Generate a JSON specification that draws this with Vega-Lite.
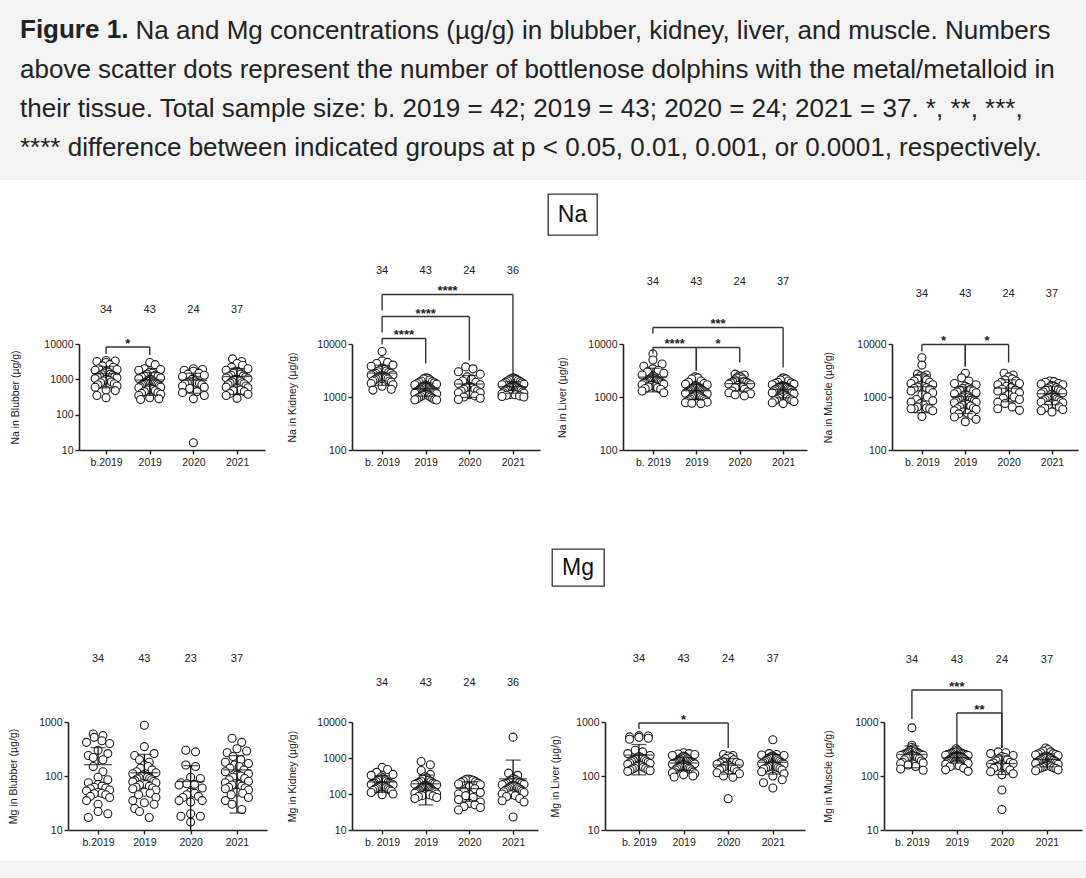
{
"$schema":"https://vega.github.io/schema/vega-lite/v6.json",
"padding":0,
"background":"white",
"columns":1,
"spacing":13,
"config":{
 "view":{"stroke":null},
 "font":"Liberation Sans",
 "axis":{"domainColor":"#222","domainWidth":1.6,"tickColor":"#222","tickWidth":1.4,"tickSize":4,"labelColor":"#222","labelFont":"Liberation Sans","labelFontSize":10.5,"titleFont":"Liberation Sans","titleFontSize":10.5,"titleFontWeight":"normal","titleColor":"#222","grid":false,"labelPadding":2,"labelFlush":false,"labelOverlap":false},
 "axisX":{"labelPadding":3},
 "text":{"font":"Liberation Sans","color":"#222"}
},
"datasets":{
"NaB":[
{"g":"b.2019","v":3400},{"g":"b.2019","v":3300},{"g":"b.2019","v":3200},{"g":"b.2019","v":3000},{"g":"b.2019","v":2600},{"g":"b.2019","v":2400},{"g":"b.2019","v":2200},{"g":"b.2019","v":2000},{"g":"b.2019","v":1900},{"g":"b.2019","v":1800},{"g":"b.2019","v":1700},{"g":"b.2019","v":1600},{"g":"b.2019","v":1500},{"g":"b.2019","v":1400},{"g":"b.2019","v":1350},{"g":"b.2019","v":1300},{"g":"b.2019","v":1250},{"g":"b.2019","v":1200},{"g":"b.2019","v":1150},{"g":"b.2019","v":1100},{"g":"b.2019","v":1050},{"g":"b.2019","v":1000},{"g":"b.2019","v":950},{"g":"b.2019","v":900},{"g":"b.2019","v":850},{"g":"b.2019","v":800},{"g":"b.2019","v":750},{"g":"b.2019","v":700},{"g":"b.2019","v":650},{"g":"b.2019","v":600},{"g":"b.2019","v":500},{"g":"b.2019","v":480},{"g":"b.2019","v":350},{"g":"b.2019","v":300},
{"g":"2019","v":3000},{"g":"2019","v":2600},{"g":"2019","v":2000},{"g":"2019","v":1900},{"g":"2019","v":1800},{"g":"2019","v":1600},{"g":"2019","v":1500},{"g":"2019","v":1400},{"g":"2019","v":1300},{"g":"2019","v":1250},{"g":"2019","v":1200},{"g":"2019","v":1150},{"g":"2019","v":1100},{"g":"2019","v":1050},{"g":"2019","v":1000},{"g":"2019","v":980},{"g":"2019","v":950},{"g":"2019","v":900},{"g":"2019","v":880},{"g":"2019","v":850},{"g":"2019","v":820},{"g":"2019","v":800},{"g":"2019","v":780},{"g":"2019","v":750},{"g":"2019","v":720},{"g":"2019","v":700},{"g":"2019","v":680},{"g":"2019","v":650},{"g":"2019","v":620},{"g":"2019","v":600},{"g":"2019","v":580},{"g":"2019","v":550},{"g":"2019","v":520},{"g":"2019","v":500},{"g":"2019","v":480},{"g":"2019","v":450},{"g":"2019","v":420},{"g":"2019","v":400},{"g":"2019","v":380},{"g":"2019","v":350},{"g":"2019","v":300},{"g":"2019","v":280},{"g":"2019","v":270},
{"g":"2020","v":2000},{"g":"2020","v":1900},{"g":"2020","v":1800},{"g":"2020","v":1700},{"g":"2020","v":1500},{"g":"2020","v":1400},{"g":"2020","v":1300},{"g":"2020","v":1200},{"g":"2020","v":1000},{"g":"2020","v":900},{"g":"2020","v":850},{"g":"2020","v":800},{"g":"2020","v":800},{"g":"2020","v":780},{"g":"2020","v":750},{"g":"2020","v":700},{"g":"2020","v":650},{"g":"2020","v":600},{"g":"2020","v":550},{"g":"2020","v":450},{"g":"2020","v":420},{"g":"2020","v":350},{"g":"2020","v":280},{"g":"2020","v":16},
{"g":"2021","v":3800},{"g":"2021","v":3200},{"g":"2021","v":2800},{"g":"2021","v":2500},{"g":"2021","v":2200},{"g":"2021","v":2000},{"g":"2021","v":1800},{"g":"2021","v":1700},{"g":"2021","v":1600},{"g":"2021","v":1500},{"g":"2021","v":1400},{"g":"2021","v":1300},{"g":"2021","v":1250},{"g":"2021","v":1200},{"g":"2021","v":1150},{"g":"2021","v":1100},{"g":"2021","v":1050},{"g":"2021","v":1000},{"g":"2021","v":980},{"g":"2021","v":950},{"g":"2021","v":900},{"g":"2021","v":850},{"g":"2021","v":800},{"g":"2021","v":780},{"g":"2021","v":750},{"g":"2021","v":700},{"g":"2021","v":650},{"g":"2021","v":600},{"g":"2021","v":580},{"g":"2021","v":550},{"g":"2021","v":500},{"g":"2021","v":480},{"g":"2021","v":450},{"g":"2021","v":400},{"g":"2021","v":380},{"g":"2021","v":350},{"g":"2021","v":290}
],
"NaK":[
{"g":"b.2019","v":7200},{"g":"b.2019","v":4800},{"g":"b.2019","v":4500},{"g":"b.2019","v":4300},{"g":"b.2019","v":4000},{"g":"b.2019","v":3800},{"g":"b.2019","v":3500},{"g":"b.2019","v":3300},{"g":"b.2019","v":3200},{"g":"b.2019","v":3100},{"g":"b.2019","v":3000},{"g":"b.2019","v":2900},{"g":"b.2019","v":2800},{"g":"b.2019","v":2800},{"g":"b.2019","v":2700},{"g":"b.2019","v":2600},{"g":"b.2019","v":2600},{"g":"b.2019","v":2500},{"g":"b.2019","v":2500},{"g":"b.2019","v":2400},{"g":"b.2019","v":2400},{"g":"b.2019","v":2300},{"g":"b.2019","v":2300},{"g":"b.2019","v":2200},{"g":"b.2019","v":2200},{"g":"b.2019","v":2100},{"g":"b.2019","v":2000},{"g":"b.2019","v":2000},{"g":"b.2019","v":1900},{"g":"b.2019","v":1800},{"g":"b.2019","v":1700},{"g":"b.2019","v":1600},{"g":"b.2019","v":1400},{"g":"b.2019","v":1350},
{"g":"2019","v":2300},{"g":"2019","v":2250},{"g":"2019","v":2200},{"g":"2019","v":2100},{"g":"2019","v":2000},{"g":"2019","v":1950},{"g":"2019","v":1900},{"g":"2019","v":1850},{"g":"2019","v":1800},{"g":"2019","v":1750},{"g":"2019","v":1700},{"g":"2019","v":1680},{"g":"2019","v":1650},{"g":"2019","v":1600},{"g":"2019","v":1580},{"g":"2019","v":1550},{"g":"2019","v":1500},{"g":"2019","v":1480},{"g":"2019","v":1450},{"g":"2019","v":1420},{"g":"2019","v":1400},{"g":"2019","v":1380},{"g":"2019","v":1350},{"g":"2019","v":1320},{"g":"2019","v":1300},{"g":"2019","v":1280},{"g":"2019","v":1250},{"g":"2019","v":1220},{"g":"2019","v":1200},{"g":"2019","v":1180},{"g":"2019","v":1150},{"g":"2019","v":1120},{"g":"2019","v":1100},{"g":"2019","v":1080},{"g":"2019","v":1050},{"g":"2019","v":1020},{"g":"2019","v":1000},{"g":"2019","v":980},{"g":"2019","v":950},{"g":"2019","v":920},{"g":"2019","v":900},{"g":"2019","v":890},{"g":"2019","v":880},
{"g":"2020","v":3700},{"g":"2020","v":3400},{"g":"2020","v":3000},{"g":"2020","v":2700},{"g":"2020","v":2400},{"g":"2020","v":2200},{"g":"2020","v":2000},{"g":"2020","v":1900},{"g":"2020","v":1800},{"g":"2020","v":1700},{"g":"2020","v":1600},{"g":"2020","v":1500},{"g":"2020","v":1500},{"g":"2020","v":1400},{"g":"2020","v":1400},{"g":"2020","v":1300},{"g":"2020","v":1300},{"g":"2020","v":1200},{"g":"2020","v":1200},{"g":"2020","v":1100},{"g":"2020","v":1050},{"g":"2020","v":1000},{"g":"2020","v":950},{"g":"2020","v":900},
{"g":"2021","v":2300},{"g":"2021","v":2250},{"g":"2021","v":2200},{"g":"2021","v":2150},{"g":"2021","v":2100},{"g":"2021","v":2050},{"g":"2021","v":2000},{"g":"2021","v":1950},{"g":"2021","v":1900},{"g":"2021","v":1850},{"g":"2021","v":1800},{"g":"2021","v":1750},{"g":"2021","v":1700},{"g":"2021","v":1650},{"g":"2021","v":1600},{"g":"2021","v":1580},{"g":"2021","v":1550},{"g":"2021","v":1520},{"g":"2021","v":1500},{"g":"2021","v":1480},{"g":"2021","v":1450},{"g":"2021","v":1420},{"g":"2021","v":1400},{"g":"2021","v":1380},{"g":"2021","v":1350},{"g":"2021","v":1300},{"g":"2021","v":1250},{"g":"2021","v":1200},{"g":"2021","v":1180},{"g":"2021","v":1150},{"g":"2021","v":1120},{"g":"2021","v":1100},{"g":"2021","v":1080},{"g":"2021","v":1050},{"g":"2021","v":1020},{"g":"2021","v":1000}
],
"NaL":[
{"g":"b.2019","v":6500},{"g":"b.2019","v":5000},{"g":"b.2019","v":4200},{"g":"b.2019","v":3800},{"g":"b.2019","v":3400},{"g":"b.2019","v":3200},{"g":"b.2019","v":3000},{"g":"b.2019","v":2800},{"g":"b.2019","v":2600},{"g":"b.2019","v":2500},{"g":"b.2019","v":2400},{"g":"b.2019","v":2300},{"g":"b.2019","v":2200},{"g":"b.2019","v":2200},{"g":"b.2019","v":2100},{"g":"b.2019","v":2100},{"g":"b.2019","v":2000},{"g":"b.2019","v":2000},{"g":"b.2019","v":1950},{"g":"b.2019","v":1900},{"g":"b.2019","v":1900},{"g":"b.2019","v":1850},{"g":"b.2019","v":1800},{"g":"b.2019","v":1800},{"g":"b.2019","v":1750},{"g":"b.2019","v":1700},{"g":"b.2019","v":1650},{"g":"b.2019","v":1600},{"g":"b.2019","v":1550},{"g":"b.2019","v":1500},{"g":"b.2019","v":1450},{"g":"b.2019","v":1400},{"g":"b.2019","v":1300},{"g":"b.2019","v":1200},
{"g":"2019","v":2400},{"g":"2019","v":2300},{"g":"2019","v":2200},{"g":"2019","v":2000},{"g":"2019","v":1900},{"g":"2019","v":1800},{"g":"2019","v":1750},{"g":"2019","v":1700},{"g":"2019","v":1650},{"g":"2019","v":1600},{"g":"2019","v":1550},{"g":"2019","v":1500},{"g":"2019","v":1480},{"g":"2019","v":1450},{"g":"2019","v":1420},{"g":"2019","v":1400},{"g":"2019","v":1380},{"g":"2019","v":1350},{"g":"2019","v":1320},{"g":"2019","v":1300},{"g":"2019","v":1280},{"g":"2019","v":1250},{"g":"2019","v":1220},{"g":"2019","v":1200},{"g":"2019","v":1180},{"g":"2019","v":1150},{"g":"2019","v":1120},{"g":"2019","v":1100},{"g":"2019","v":1080},{"g":"2019","v":1050},{"g":"2019","v":1020},{"g":"2019","v":1000},{"g":"2019","v":980},{"g":"2019","v":950},{"g":"2019","v":920},{"g":"2019","v":900},{"g":"2019","v":880},{"g":"2019","v":850},{"g":"2019","v":820},{"g":"2019","v":800},{"g":"2019","v":780},{"g":"2019","v":760},{"g":"2019","v":750},
{"g":"2020","v":2700},{"g":"2020","v":2600},{"g":"2020","v":2500},{"g":"2020","v":2400},{"g":"2020","v":2300},{"g":"2020","v":2200},{"g":"2020","v":2100},{"g":"2020","v":2000},{"g":"2020","v":1950},{"g":"2020","v":1900},{"g":"2020","v":1850},{"g":"2020","v":1800},{"g":"2020","v":1750},{"g":"2020","v":1700},{"g":"2020","v":1650},{"g":"2020","v":1600},{"g":"2020","v":1500},{"g":"2020","v":1400},{"g":"2020","v":1300},{"g":"2020","v":1250},{"g":"2020","v":1200},{"g":"2020","v":1150},{"g":"2020","v":1100},{"g":"2020","v":1050},
{"g":"2021","v":2300},{"g":"2021","v":2200},{"g":"2021","v":2100},{"g":"2021","v":2000},{"g":"2021","v":1900},{"g":"2021","v":1850},{"g":"2021","v":1800},{"g":"2021","v":1750},{"g":"2021","v":1700},{"g":"2021","v":1650},{"g":"2021","v":1600},{"g":"2021","v":1580},{"g":"2021","v":1550},{"g":"2021","v":1520},{"g":"2021","v":1500},{"g":"2021","v":1480},{"g":"2021","v":1450},{"g":"2021","v":1420},{"g":"2021","v":1400},{"g":"2021","v":1380},{"g":"2021","v":1350},{"g":"2021","v":1300},{"g":"2021","v":1250},{"g":"2021","v":1200},{"g":"2021","v":1150},{"g":"2021","v":1100},{"g":"2021","v":1050},{"g":"2021","v":1000},{"g":"2021","v":980},{"g":"2021","v":950},{"g":"2021","v":920},{"g":"2021","v":900},{"g":"2021","v":880},{"g":"2021","v":850},{"g":"2021","v":820},{"g":"2021","v":780},{"g":"2021","v":750}
],
"NaM":[
{"g":"b.2019","v":5500},{"g":"b.2019","v":4000},{"g":"b.2019","v":2700},{"g":"b.2019","v":2600},{"g":"b.2019","v":2500},{"g":"b.2019","v":2400},{"g":"b.2019","v":2200},{"g":"b.2019","v":2100},{"g":"b.2019","v":2000},{"g":"b.2019","v":1900},{"g":"b.2019","v":1800},{"g":"b.2019","v":1700},{"g":"b.2019","v":1650},{"g":"b.2019","v":1600},{"g":"b.2019","v":1550},{"g":"b.2019","v":1500},{"g":"b.2019","v":1450},{"g":"b.2019","v":1400},{"g":"b.2019","v":1300},{"g":"b.2019","v":1200},{"g":"b.2019","v":1100},{"g":"b.2019","v":1000},{"g":"b.2019","v":900},{"g":"b.2019","v":850},{"g":"b.2019","v":800},{"g":"b.2019","v":750},{"g":"b.2019","v":700},{"g":"b.2019","v":650},{"g":"b.2019","v":620},{"g":"b.2019","v":600},{"g":"b.2019","v":600},{"g":"b.2019","v":600},{"g":"b.2019","v":550},{"g":"b.2019","v":430},
{"g":"2019","v":2800},{"g":"2019","v":2300},{"g":"2019","v":2000},{"g":"2019","v":1800},{"g":"2019","v":1700},{"g":"2019","v":1600},{"g":"2019","v":1500},{"g":"2019","v":1450},{"g":"2019","v":1400},{"g":"2019","v":1350},{"g":"2019","v":1300},{"g":"2019","v":1250},{"g":"2019","v":1200},{"g":"2019","v":1150},{"g":"2019","v":1100},{"g":"2019","v":1080},{"g":"2019","v":1050},{"g":"2019","v":1000},{"g":"2019","v":980},{"g":"2019","v":950},{"g":"2019","v":920},{"g":"2019","v":900},{"g":"2019","v":880},{"g":"2019","v":850},{"g":"2019","v":820},{"g":"2019","v":800},{"g":"2019","v":780},{"g":"2019","v":750},{"g":"2019","v":720},{"g":"2019","v":700},{"g":"2019","v":680},{"g":"2019","v":650},{"g":"2019","v":620},{"g":"2019","v":600},{"g":"2019","v":580},{"g":"2019","v":550},{"g":"2019","v":520},{"g":"2019","v":500},{"g":"2019","v":480},{"g":"2019","v":450},{"g":"2019","v":420},{"g":"2019","v":380},{"g":"2019","v":340},
{"g":"2020","v":2800},{"g":"2020","v":2600},{"g":"2020","v":2400},{"g":"2020","v":2200},{"g":"2020","v":2100},{"g":"2020","v":2000},{"g":"2020","v":1900},{"g":"2020","v":1800},{"g":"2020","v":1700},{"g":"2020","v":1600},{"g":"2020","v":1500},{"g":"2020","v":1400},{"g":"2020","v":1350},{"g":"2020","v":1300},{"g":"2020","v":1200},{"g":"2020","v":1100},{"g":"2020","v":1000},{"g":"2020","v":950},{"g":"2020","v":900},{"g":"2020","v":800},{"g":"2020","v":750},{"g":"2020","v":650},{"g":"2020","v":600},{"g":"2020","v":560},
{"g":"2021","v":2000},{"g":"2021","v":1950},{"g":"2021","v":1900},{"g":"2021","v":1800},{"g":"2021","v":1750},{"g":"2021","v":1700},{"g":"2021","v":1650},{"g":"2021","v":1600},{"g":"2021","v":1550},{"g":"2021","v":1500},{"g":"2021","v":1450},{"g":"2021","v":1400},{"g":"2021","v":1350},{"g":"2021","v":1300},{"g":"2021","v":1250},{"g":"2021","v":1200},{"g":"2021","v":1150},{"g":"2021","v":1100},{"g":"2021","v":1050},{"g":"2021","v":1000},{"g":"2021","v":980},{"g":"2021","v":950},{"g":"2021","v":920},{"g":"2021","v":900},{"g":"2021","v":880},{"g":"2021","v":850},{"g":"2021","v":820},{"g":"2021","v":800},{"g":"2021","v":780},{"g":"2021","v":750},{"g":"2021","v":720},{"g":"2021","v":700},{"g":"2021","v":650},{"g":"2021","v":620},{"g":"2021","v":580},{"g":"2021","v":550},{"g":"2021","v":520}
],
"MgB":[
{"g":"b.2019","v":600},{"g":"b.2019","v":560},{"g":"b.2019","v":520},{"g":"b.2019","v":450},{"g":"b.2019","v":420},{"g":"b.2019","v":400},{"g":"b.2019","v":300},{"g":"b.2019","v":260},{"g":"b.2019","v":240},{"g":"b.2019","v":220},{"g":"b.2019","v":200},{"g":"b.2019","v":150},{"g":"b.2019","v":120},{"g":"b.2019","v":95},{"g":"b.2019","v":85},{"g":"b.2019","v":75},{"g":"b.2019","v":70},{"g":"b.2019","v":65},{"g":"b.2019","v":62},{"g":"b.2019","v":60},{"g":"b.2019","v":58},{"g":"b.2019","v":55},{"g":"b.2019","v":53},{"g":"b.2019","v":50},{"g":"b.2019","v":48},{"g":"b.2019","v":47},{"g":"b.2019","v":45},{"g":"b.2019","v":42},{"g":"b.2019","v":40},{"g":"b.2019","v":35},{"g":"b.2019","v":30},{"g":"b.2019","v":22},{"g":"b.2019","v":20},{"g":"b.2019","v":17},
{"g":"2019","v":870},{"g":"2019","v":350},{"g":"2019","v":260},{"g":"2019","v":240},{"g":"2019","v":200},{"g":"2019","v":180},{"g":"2019","v":160},{"g":"2019","v":150},{"g":"2019","v":140},{"g":"2019","v":130},{"g":"2019","v":120},{"g":"2019","v":115},{"g":"2019","v":110},{"g":"2019","v":105},{"g":"2019","v":100},{"g":"2019","v":98},{"g":"2019","v":95},{"g":"2019","v":92},{"g":"2019","v":90},{"g":"2019","v":88},{"g":"2019","v":85},{"g":"2019","v":82},{"g":"2019","v":80},{"g":"2019","v":78},{"g":"2019","v":75},{"g":"2019","v":72},{"g":"2019","v":70},{"g":"2019","v":68},{"g":"2019","v":65},{"g":"2019","v":62},{"g":"2019","v":60},{"g":"2019","v":58},{"g":"2019","v":55},{"g":"2019","v":50},{"g":"2019","v":48},{"g":"2019","v":45},{"g":"2019","v":40},{"g":"2019","v":35},{"g":"2019","v":32},{"g":"2019","v":30},{"g":"2019","v":25},{"g":"2019","v":22},{"g":"2019","v":17},
{"g":"2020","v":300},{"g":"2020","v":280},{"g":"2020","v":160},{"g":"2020","v":150},{"g":"2020","v":95},{"g":"2020","v":90},{"g":"2020","v":75},{"g":"2020","v":72},{"g":"2020","v":70},{"g":"2020","v":68},{"g":"2020","v":60},{"g":"2020","v":50},{"g":"2020","v":48},{"g":"2020","v":45},{"g":"2020","v":42},{"g":"2020","v":40},{"g":"2020","v":35},{"g":"2020","v":35},{"g":"2020","v":33},{"g":"2020","v":20},{"g":"2020","v":18},{"g":"2020","v":18},{"g":"2020","v":14},
{"g":"2021","v":500},{"g":"2021","v":420},{"g":"2021","v":320},{"g":"2021","v":290},{"g":"2021","v":270},{"g":"2021","v":230},{"g":"2021","v":200},{"g":"2021","v":180},{"g":"2021","v":170},{"g":"2021","v":160},{"g":"2021","v":150},{"g":"2021","v":140},{"g":"2021","v":130},{"g":"2021","v":120},{"g":"2021","v":110},{"g":"2021","v":105},{"g":"2021","v":100},{"g":"2021","v":95},{"g":"2021","v":90},{"g":"2021","v":85},{"g":"2021","v":80},{"g":"2021","v":75},{"g":"2021","v":72},{"g":"2021","v":70},{"g":"2021","v":68},{"g":"2021","v":65},{"g":"2021","v":62},{"g":"2021","v":60},{"g":"2021","v":58},{"g":"2021","v":55},{"g":"2021","v":50},{"g":"2021","v":48},{"g":"2021","v":45},{"g":"2021","v":40},{"g":"2021","v":35},{"g":"2021","v":30},{"g":"2021","v":24}
],
"MgK":[
{"g":"b.2019","v":550},{"g":"b.2019","v":480},{"g":"b.2019","v":400},{"g":"b.2019","v":350},{"g":"b.2019","v":330},{"g":"b.2019","v":300},{"g":"b.2019","v":280},{"g":"b.2019","v":260},{"g":"b.2019","v":250},{"g":"b.2019","v":240},{"g":"b.2019","v":230},{"g":"b.2019","v":220},{"g":"b.2019","v":210},{"g":"b.2019","v":200},{"g":"b.2019","v":200},{"g":"b.2019","v":195},{"g":"b.2019","v":190},{"g":"b.2019","v":185},{"g":"b.2019","v":180},{"g":"b.2019","v":175},{"g":"b.2019","v":170},{"g":"b.2019","v":165},{"g":"b.2019","v":160},{"g":"b.2019","v":155},{"g":"b.2019","v":150},{"g":"b.2019","v":145},{"g":"b.2019","v":140},{"g":"b.2019","v":135},{"g":"b.2019","v":130},{"g":"b.2019","v":125},{"g":"b.2019","v":120},{"g":"b.2019","v":110},{"g":"b.2019","v":100},{"g":"b.2019","v":95},
{"g":"2019","v":800},{"g":"2019","v":650},{"g":"2019","v":450},{"g":"2019","v":350},{"g":"2019","v":300},{"g":"2019","v":280},{"g":"2019","v":260},{"g":"2019","v":240},{"g":"2019","v":230},{"g":"2019","v":220},{"g":"2019","v":210},{"g":"2019","v":200},{"g":"2019","v":195},{"g":"2019","v":190},{"g":"2019","v":185},{"g":"2019","v":180},{"g":"2019","v":175},{"g":"2019","v":170},{"g":"2019","v":165},{"g":"2019","v":160},{"g":"2019","v":155},{"g":"2019","v":150},{"g":"2019","v":148},{"g":"2019","v":145},{"g":"2019","v":140},{"g":"2019","v":135},{"g":"2019","v":130},{"g":"2019","v":128},{"g":"2019","v":125},{"g":"2019","v":120},{"g":"2019","v":118},{"g":"2019","v":115},{"g":"2019","v":112},{"g":"2019","v":110},{"g":"2019","v":105},{"g":"2019","v":100},{"g":"2019","v":98},{"g":"2019","v":95},{"g":"2019","v":90},{"g":"2019","v":88},{"g":"2019","v":85},{"g":"2019","v":80},{"g":"2019","v":75},
{"g":"2020","v":260},{"g":"2020","v":250},{"g":"2020","v":250},{"g":"2020","v":240},{"g":"2020","v":230},{"g":"2020","v":220},{"g":"2020","v":210},{"g":"2020","v":200},{"g":"2020","v":190},{"g":"2020","v":180},{"g":"2020","v":160},{"g":"2020","v":140},{"g":"2020","v":120},{"g":"2020","v":110},{"g":"2020","v":100},{"g":"2020","v":90},{"g":"2020","v":80},{"g":"2020","v":70},{"g":"2020","v":60},{"g":"2020","v":55},{"g":"2020","v":50},{"g":"2020","v":45},{"g":"2020","v":42},{"g":"2020","v":36},
{"g":"2021","v":3800},{"g":"2021","v":380},{"g":"2021","v":330},{"g":"2021","v":270},{"g":"2021","v":250},{"g":"2021","v":240},{"g":"2021","v":230},{"g":"2021","v":220},{"g":"2021","v":210},{"g":"2021","v":200},{"g":"2021","v":195},{"g":"2021","v":190},{"g":"2021","v":185},{"g":"2021","v":180},{"g":"2021","v":175},{"g":"2021","v":170},{"g":"2021","v":165},{"g":"2021","v":160},{"g":"2021","v":155},{"g":"2021","v":150},{"g":"2021","v":145},{"g":"2021","v":140},{"g":"2021","v":135},{"g":"2021","v":130},{"g":"2021","v":125},{"g":"2021","v":120},{"g":"2021","v":115},{"g":"2021","v":110},{"g":"2021","v":100},{"g":"2021","v":95},{"g":"2021","v":90},{"g":"2021","v":85},{"g":"2021","v":75},{"g":"2021","v":65},{"g":"2021","v":60},{"g":"2021","v":23}
],
"MgL":[
{"g":"b.2019","v":560},{"g":"b.2019","v":550},{"g":"b.2019","v":530},{"g":"b.2019","v":520},{"g":"b.2019","v":500},{"g":"b.2019","v":480},{"g":"b.2019","v":300},{"g":"b.2019","v":280},{"g":"b.2019","v":260},{"g":"b.2019","v":240},{"g":"b.2019","v":230},{"g":"b.2019","v":220},{"g":"b.2019","v":215},{"g":"b.2019","v":210},{"g":"b.2019","v":205},{"g":"b.2019","v":200},{"g":"b.2019","v":195},{"g":"b.2019","v":190},{"g":"b.2019","v":185},{"g":"b.2019","v":180},{"g":"b.2019","v":175},{"g":"b.2019","v":170},{"g":"b.2019","v":165},{"g":"b.2019","v":160},{"g":"b.2019","v":155},{"g":"b.2019","v":150},{"g":"b.2019","v":145},{"g":"b.2019","v":140},{"g":"b.2019","v":138},{"g":"b.2019","v":135},{"g":"b.2019","v":130},{"g":"b.2019","v":128},{"g":"b.2019","v":125},{"g":"b.2019","v":122},
{"g":"2019","v":270},{"g":"2019","v":260},{"g":"2019","v":255},{"g":"2019","v":250},{"g":"2019","v":240},{"g":"2019","v":235},{"g":"2019","v":230},{"g":"2019","v":225},{"g":"2019","v":220},{"g":"2019","v":215},{"g":"2019","v":210},{"g":"2019","v":205},{"g":"2019","v":200},{"g":"2019","v":195},{"g":"2019","v":190},{"g":"2019","v":185},{"g":"2019","v":182},{"g":"2019","v":180},{"g":"2019","v":178},{"g":"2019","v":175},{"g":"2019","v":172},{"g":"2019","v":170},{"g":"2019","v":168},{"g":"2019","v":165},{"g":"2019","v":162},{"g":"2019","v":160},{"g":"2019","v":158},{"g":"2019","v":155},{"g":"2019","v":150},{"g":"2019","v":148},{"g":"2019","v":145},{"g":"2019","v":140},{"g":"2019","v":138},{"g":"2019","v":135},{"g":"2019","v":130},{"g":"2019","v":125},{"g":"2019","v":120},{"g":"2019","v":118},{"g":"2019","v":115},{"g":"2019","v":110},{"g":"2019","v":105},{"g":"2019","v":100},{"g":"2019","v":96},
{"g":"2020","v":250},{"g":"2020","v":240},{"g":"2020","v":235},{"g":"2020","v":220},{"g":"2020","v":210},{"g":"2020","v":200},{"g":"2020","v":190},{"g":"2020","v":180},{"g":"2020","v":175},{"g":"2020","v":170},{"g":"2020","v":165},{"g":"2020","v":160},{"g":"2020","v":155},{"g":"2020","v":150},{"g":"2020","v":145},{"g":"2020","v":140},{"g":"2020","v":135},{"g":"2020","v":130},{"g":"2020","v":120},{"g":"2020","v":115},{"g":"2020","v":110},{"g":"2020","v":100},{"g":"2020","v":95},{"g":"2020","v":38},
{"g":"2021","v":470},{"g":"2021","v":260},{"g":"2021","v":250},{"g":"2021","v":245},{"g":"2021","v":240},{"g":"2021","v":235},{"g":"2021","v":230},{"g":"2021","v":225},{"g":"2021","v":220},{"g":"2021","v":215},{"g":"2021","v":210},{"g":"2021","v":205},{"g":"2021","v":200},{"g":"2021","v":195},{"g":"2021","v":190},{"g":"2021","v":185},{"g":"2021","v":180},{"g":"2021","v":175},{"g":"2021","v":170},{"g":"2021","v":168},{"g":"2021","v":165},{"g":"2021","v":160},{"g":"2021","v":155},{"g":"2021","v":150},{"g":"2021","v":148},{"g":"2021","v":145},{"g":"2021","v":142},{"g":"2021","v":140},{"g":"2021","v":138},{"g":"2021","v":135},{"g":"2021","v":130},{"g":"2021","v":120},{"g":"2021","v":110},{"g":"2021","v":100},{"g":"2021","v":85},{"g":"2021","v":75},{"g":"2021","v":60}
],
"MgM":[
{"g":"b.2019","v":780},{"g":"b.2019","v":370},{"g":"b.2019","v":340},{"g":"b.2019","v":320},{"g":"b.2019","v":300},{"g":"b.2019","v":290},{"g":"b.2019","v":280},{"g":"b.2019","v":275},{"g":"b.2019","v":270},{"g":"b.2019","v":265},{"g":"b.2019","v":260},{"g":"b.2019","v":255},{"g":"b.2019","v":250},{"g":"b.2019","v":248},{"g":"b.2019","v":245},{"g":"b.2019","v":242},{"g":"b.2019","v":240},{"g":"b.2019","v":238},{"g":"b.2019","v":235},{"g":"b.2019","v":232},{"g":"b.2019","v":230},{"g":"b.2019","v":225},{"g":"b.2019","v":220},{"g":"b.2019","v":215},{"g":"b.2019","v":210},{"g":"b.2019","v":200},{"g":"b.2019","v":190},{"g":"b.2019","v":180},{"g":"b.2019","v":175},{"g":"b.2019","v":170},{"g":"b.2019","v":160},{"g":"b.2019","v":150},{"g":"b.2019","v":135},{"g":"b.2019","v":128},
{"g":"2019","v":320},{"g":"2019","v":300},{"g":"2019","v":290},{"g":"2019","v":280},{"g":"2019","v":275},{"g":"2019","v":270},{"g":"2019","v":265},{"g":"2019","v":260},{"g":"2019","v":258},{"g":"2019","v":255},{"g":"2019","v":252},{"g":"2019","v":250},{"g":"2019","v":248},{"g":"2019","v":245},{"g":"2019","v":242},{"g":"2019","v":240},{"g":"2019","v":238},{"g":"2019","v":235},{"g":"2019","v":232},{"g":"2019","v":230},{"g":"2019","v":228},{"g":"2019","v":225},{"g":"2019","v":222},{"g":"2019","v":220},{"g":"2019","v":218},{"g":"2019","v":215},{"g":"2019","v":212},{"g":"2019","v":210},{"g":"2019","v":205},{"g":"2019","v":200},{"g":"2019","v":195},{"g":"2019","v":190},{"g":"2019","v":185},{"g":"2019","v":180},{"g":"2019","v":175},{"g":"2019","v":170},{"g":"2019","v":165},{"g":"2019","v":160},{"g":"2019","v":155},{"g":"2019","v":150},{"g":"2019","v":140},{"g":"2019","v":130},{"g":"2019","v":122},
{"g":"2020","v":280},{"g":"2020","v":270},{"g":"2020","v":260},{"g":"2020","v":240},{"g":"2020","v":230},{"g":"2020","v":220},{"g":"2020","v":210},{"g":"2020","v":200},{"g":"2020","v":190},{"g":"2020","v":180},{"g":"2020","v":175},{"g":"2020","v":170},{"g":"2020","v":165},{"g":"2020","v":160},{"g":"2020","v":155},{"g":"2020","v":150},{"g":"2020","v":145},{"g":"2020","v":140},{"g":"2020","v":130},{"g":"2020","v":120},{"g":"2020","v":110},{"g":"2020","v":105},{"g":"2020","v":55},{"g":"2020","v":24},
{"g":"2021","v":330},{"g":"2021","v":310},{"g":"2021","v":290},{"g":"2021","v":280},{"g":"2021","v":270},{"g":"2021","v":260},{"g":"2021","v":255},{"g":"2021","v":250},{"g":"2021","v":245},{"g":"2021","v":240},{"g":"2021","v":235},{"g":"2021","v":230},{"g":"2021","v":225},{"g":"2021","v":220},{"g":"2021","v":215},{"g":"2021","v":210},{"g":"2021","v":205},{"g":"2021","v":200},{"g":"2021","v":198},{"g":"2021","v":195},{"g":"2021","v":190},{"g":"2021","v":185},{"g":"2021","v":180},{"g":"2021","v":175},{"g":"2021","v":170},{"g":"2021","v":165},{"g":"2021","v":160},{"g":"2021","v":155},{"g":"2021","v":150},{"g":"2021","v":148},{"g":"2021","v":145},{"g":"2021","v":142},{"g":"2021","v":140},{"g":"2021","v":138},{"g":"2021","v":135},{"g":"2021","v":130},{"g":"2021","v":125}
]
},
"concat":[
{
 "width":1086,"height":180,
 "view":{"fill":"#f3f3f3","stroke":null},
 "data":{"values":[]},
 "mark":{"type":"point","opacity":0},
 "title":{
  "text":"Figure 1.",
  "subtitle":["\u200b\u00a0\u00a0\u00a0\u00a0\u00a0\u00a0\u00a0\u00a0\u00a0\u00a0\u00a0\u00a0\u00a0\u00a0\u00a0\u00a0Na and Mg concentrations (µg/g) in blubber, kidney, liver, and muscle. Numbers","above scatter dots represent the number of bottlenose dolphins with the metal/metalloid in","their tissue. Total sample size: b. 2019 = 42; 2019 = 43; 2020 = 24; 2021 = 37. *, **, ***,","**** difference between indicated groups at p < 0.05, 0.01, 0.001, or 0.0001, respectively."],
  "anchor":"start","frame":"group","orient":"top","offset":-161,"dx":20,
  "font":"Liberation Sans","fontSize":26,"fontWeight":"bold","color":"#222",
  "subtitleFont":"Liberation Sans","subtitleFontSize":26,"subtitleColor":"#222","subtitleLineHeight":39,"subtitlePadding":-25,"subtitleFontWeight":"normal"
 }
},
{
 "concat":[
  {"width":547,"height":58,"data":{"values":[]},"mark":{"type":"point","opacity":0}},
  {
   "width":49,"height":41,
   "view":{"stroke":"#333","strokeWidth":1.3,"fill":"white"},
   "data":{"values":[{"k":"Na"}]},
   "mark":{"type":"text","fontSize":23,"font":"Liberation Sans","color":"#111"},
   "encoding":{
    "text":{"field":"k"},
    "x":{"field":"k","type":"nominal","axis":null},
    "y":{"field":"k","type":"nominal","axis":null}
   }
  }
 ],
 "columns":2,"spacing":0
},
{
 "concat":[
  {"width":1,"height":1,"data":{"values":[]},"mark":{"type":"point","opacity":0}},
  {
   "width":186,"height":106,
   "data":{"name":"NaB"},
   "transform":[
    {"calculate":"indexof(['b.2019','2019','2020','2021'], datum.g)","as":"i"},
    {"calculate":"floor(log(datum.v)/LN10/0.25)","as":"lb"},
    {"joinaggregate":[{"op":"count","as":"c"}],"groupby":["g","lb"]},
    {"window":[{"op":"row_number","as":"r"}],"groupby":["g","lb"],"sort":[{"field":"v","order":"descending"}]},
    {"calculate":"datum.i+((datum.r%2==0?datum.r/2:-(datum.r-1)/2)-(datum.c%2==0?0.5:0))*min(0.21,0.5/max(datum.c-1,1))","as":"xi"}
   ],
   "layer":[
    {"mark":{"type":"point","shape":"circle","filled":true,"fill":"white","stroke":"#1a1a1a","strokeWidth":1.1,"size":64,"opacity":1},
     "encoding":{
      "x":{"field":"xi","type":"quantitative","scale":{"domain":[-0.62,3.64],"nice":false,"zero":false},"axis":{"values":[0,1,2,3],"labelExpr":"['b.2019','2019','2020','2021'][datum.value]","title":null,"minExtent":85,"maxExtent":85}},
      "y":{"field":"v","type":"quantitative","scale":{"type":"log","domain":[10,10000],"nice":false},"axis":{"values":[10,100,1000,10000],"format":"d","title":"Na in Blubber (µg/g)","titleX":-64,"titleBaseline":"middle","minExtent":78,"maxExtent":78}}
     }},
    {"transform":[{"aggregate":[{"op":"mean","field":"v","as":"m"},{"op":"stdev","field":"v","as":"s"}],"groupby":["i"]},{"calculate":"datum.m+datum.s","as":"hi"},{"calculate":"datum.m>datum.s?datum.m-datum.s:datum.m","as":"lo"}],
     "layer":[
      {"mark":{"type":"rule","color":"#111","strokeWidth":1.3,"clip":true},"encoding":{"x":{"field":"i","type":"quantitative"},"y":{"field":"lo","type":"quantitative"},"y2":{"field":"hi"}}},
      {"mark":{"type":"tick","orient":"horizontal","color":"#111","thickness":1.3,"size":28,"clip":true},"encoding":{"x":{"field":"i","type":"quantitative"},"y":{"field":"m","type":"quantitative"}}},
      {"mark":{"type":"tick","orient":"horizontal","color":"#111","thickness":1.3,"size":15,"clip":true},"encoding":{"x":{"field":"i","type":"quantitative"},"y":{"field":"hi","type":"quantitative"}}},
      {"transform":[{"filter":"datum.m>datum.s"}],"mark":{"type":"tick","orient":"horizontal","color":"#111","thickness":1.3,"size":15,"clip":true},"encoding":{"x":{"field":"i","type":"quantitative"},"y":{"field":"lo","type":"quantitative"}}}
     ]},
    {"data":{"values":[{"g":"b.2019","n":34},{"g":"2019","n":43},{"g":"2020","n":24},{"g":"2021","n":37}]},
     "transform":[{"calculate":"indexof(['b.2019','2019','2020','2021'], datum.g)","as":"i"}],
     "mark":{"type":"text","fontSize":11,"baseline":"middle","color":"#222"},
     "encoding":{"x":{"field":"i","type":"quantitative"},"y":{"datum":91800},"text":{"field":"n"}}},
    {"data":{"values":[{"a":"b.2019","b":"2019","y":8240,"ya":5240,"yb":4920,"lab":"*"}]},
     "transform":[{"calculate":"indexof(['b.2019','2019','2020','2021'], datum.a)","as":"ia"},{"calculate":"indexof(['b.2019','2019','2020','2021'], datum.b)","as":"ib"},{"calculate":"(datum.ia+datum.ib)/2","as":"im"}],
     "layer":[
      {"mark":{"type":"rule","color":"#333","strokeWidth":1.4},"encoding":{"x":{"field":"ia","type":"quantitative"},"x2":{"field":"ib"},"y":{"field":"y","type":"quantitative"}}},
      {"mark":{"type":"rule","color":"#333","strokeWidth":1.4},"encoding":{"x":{"field":"ia","type":"quantitative"},"y":{"field":"y","type":"quantitative"},"y2":{"field":"ya"}}},
      {"mark":{"type":"rule","color":"#333","strokeWidth":1.4},"encoding":{"x":{"field":"ib","type":"quantitative"},"y":{"field":"y","type":"quantitative"},"y2":{"field":"yb"}}},
      {"mark":{"type":"text","fontSize":13,"fontWeight":"bold","baseline":"alphabetic","dy":1,"color":"#222"},"encoding":{"x":{"field":"im","type":"quantitative"},"y":{"field":"y","type":"quantitative"},"text":{"field":"lab"}}}
     ]}
   ]
  },
  {
   "width":188,"height":106,
   "data":{"name":"NaK"},
   "transform":[
    {"calculate":"indexof(['b.2019','2019','2020','2021'], datum.g)","as":"i"},
    {"calculate":"floor(log(datum.v)/LN10/0.17)","as":"lb"},
    {"joinaggregate":[{"op":"count","as":"c"}],"groupby":["g","lb"]},
    {"window":[{"op":"row_number","as":"r"}],"groupby":["g","lb"],"sort":[{"field":"v","order":"descending"}]},
    {"calculate":"datum.i+((datum.r%2==0?datum.r/2:-(datum.r-1)/2)-(datum.c%2==0?0.5:0))*min(0.21,0.5/max(datum.c-1,1))","as":"xi"}
   ],
   "layer":[
    {"mark":{"type":"point","shape":"circle","filled":true,"fill":"white","stroke":"#1a1a1a","strokeWidth":1.1,"size":64,"opacity":1},
     "encoding":{
      "x":{"field":"xi","type":"quantitative","scale":{"domain":[-0.69,3.62],"nice":false,"zero":false},"axis":{"values":[0,1,2,3],"labelExpr":"['b. 2019','2019','2020','2021'][datum.value]","title":null,"minExtent":85,"maxExtent":85}},
      "y":{"field":"v","type":"quantitative","scale":{"type":"log","domain":[100,10000],"nice":false},"axis":{"values":[100,1000,10000],"format":"d","title":"Na in Kidney (µg/g)","titleX":-60,"titleBaseline":"middle","minExtent":87,"maxExtent":87}}
     }},
    {"transform":[{"aggregate":[{"op":"mean","field":"v","as":"m"},{"op":"stdev","field":"v","as":"s"}],"groupby":["i"]},{"calculate":"datum.m+datum.s","as":"hi"},{"calculate":"datum.m>datum.s?datum.m-datum.s:datum.m","as":"lo"}],
     "layer":[
      {"mark":{"type":"rule","color":"#111","strokeWidth":1.3,"clip":true},"encoding":{"x":{"field":"i","type":"quantitative"},"y":{"field":"lo","type":"quantitative"},"y2":{"field":"hi"}}},
      {"mark":{"type":"tick","orient":"horizontal","color":"#111","thickness":1.3,"size":28,"clip":true},"encoding":{"x":{"field":"i","type":"quantitative"},"y":{"field":"m","type":"quantitative"}}},
      {"mark":{"type":"tick","orient":"horizontal","color":"#111","thickness":1.3,"size":15,"clip":true},"encoding":{"x":{"field":"i","type":"quantitative"},"y":{"field":"hi","type":"quantitative"}}},
      {"transform":[{"filter":"datum.m>datum.s"}],"mark":{"type":"tick","orient":"horizontal","color":"#111","thickness":1.3,"size":15,"clip":true},"encoding":{"x":{"field":"i","type":"quantitative"},"y":{"field":"lo","type":"quantitative"}}}
     ]},
    {"data":{"values":[{"g":"b.2019","n":34},{"g":"2019","n":43},{"g":"2020","n":24},{"g":"2021","n":36}]},
     "transform":[{"calculate":"indexof(['b.2019','2019','2020','2021'], datum.g)","as":"i"}],
     "mark":{"type":"text","fontSize":11,"baseline":"middle","color":"#222"},
     "encoding":{"x":{"field":"i","type":"quantitative"},"y":{"datum":238000},"text":{"field":"n"}}},
    {"data":{"values":[{"a":"b.2019","b":"2021","y":86000,"ya":43000,"yb":1960,"lab":"****"},{"a":"b.2019","b":"2020","y":33000,"ya":16500,"yb":4890,"lab":"****"},{"a":"b.2019","b":"2019","y":12700,"ya":9800,"yb":4290,"lab":"****"}]},
     "transform":[{"calculate":"indexof(['b.2019','2019','2020','2021'], datum.a)","as":"ia"},{"calculate":"indexof(['b.2019','2019','2020','2021'], datum.b)","as":"ib"},{"calculate":"(datum.ia+datum.ib)/2","as":"im"}],
     "layer":[
      {"mark":{"type":"rule","color":"#333","strokeWidth":1.4},"encoding":{"x":{"field":"ia","type":"quantitative"},"x2":{"field":"ib"},"y":{"field":"y","type":"quantitative"}}},
      {"mark":{"type":"rule","color":"#333","strokeWidth":1.4},"encoding":{"x":{"field":"ia","type":"quantitative"},"y":{"field":"y","type":"quantitative"},"y2":{"field":"ya"}}},
      {"mark":{"type":"rule","color":"#333","strokeWidth":1.4},"encoding":{"x":{"field":"ib","type":"quantitative"},"y":{"field":"y","type":"quantitative"},"y2":{"field":"yb"}}},
      {"mark":{"type":"text","fontSize":13,"fontWeight":"bold","baseline":"alphabetic","dy":1,"color":"#222"},"encoding":{"x":{"field":"im","type":"quantitative"},"y":{"field":"y","type":"quantitative"},"text":{"field":"lab"}}}
     ]}
   ]
  },
  {
   "width":184,"height":106,
   "data":{"name":"NaL"},
   "transform":[
    {"calculate":"indexof(['b.2019','2019','2020','2021'], datum.g)","as":"i"},
    {"calculate":"floor(log(datum.v)/LN10/0.17)","as":"lb"},
    {"joinaggregate":[{"op":"count","as":"c"}],"groupby":["g","lb"]},
    {"window":[{"op":"row_number","as":"r"}],"groupby":["g","lb"],"sort":[{"field":"v","order":"descending"}]},
    {"calculate":"datum.i+((datum.r%2==0?datum.r/2:-(datum.r-1)/2)-(datum.c%2==0?0.5:0))*min(0.21,0.5/max(datum.c-1,1))","as":"xi"}
   ],
   "layer":[
    {"mark":{"type":"point","shape":"circle","filled":true,"fill":"white","stroke":"#1a1a1a","strokeWidth":1.1,"size":64,"opacity":1},
     "encoding":{
      "x":{"field":"xi","type":"quantitative","scale":{"domain":[-0.69,3.55],"nice":false,"zero":false},"axis":{"values":[0,1,2,3],"labelExpr":"['b. 2019','2019','2020','2021'][datum.value]","title":null,"minExtent":85,"maxExtent":85}},
      "y":{"field":"v","type":"quantitative","scale":{"type":"log","domain":[100,10000],"nice":false},"axis":{"values":[100,1000,10000],"format":"d","title":"Na in Liver (µg/g)","titleX":-61,"titleBaseline":"middle","minExtent":83,"maxExtent":83}}
     }},
    {"transform":[{"aggregate":[{"op":"mean","field":"v","as":"m"},{"op":"stdev","field":"v","as":"s"}],"groupby":["i"]},{"calculate":"datum.m+datum.s","as":"hi"},{"calculate":"datum.m>datum.s?datum.m-datum.s:datum.m","as":"lo"}],
     "layer":[
      {"mark":{"type":"rule","color":"#111","strokeWidth":1.3,"clip":true},"encoding":{"x":{"field":"i","type":"quantitative"},"y":{"field":"lo","type":"quantitative"},"y2":{"field":"hi"}}},
      {"mark":{"type":"tick","orient":"horizontal","color":"#111","thickness":1.3,"size":28,"clip":true},"encoding":{"x":{"field":"i","type":"quantitative"},"y":{"field":"m","type":"quantitative"}}},
      {"mark":{"type":"tick","orient":"horizontal","color":"#111","thickness":1.3,"size":15,"clip":true},"encoding":{"x":{"field":"i","type":"quantitative"},"y":{"field":"hi","type":"quantitative"}}},
      {"transform":[{"filter":"datum.m>datum.s"}],"mark":{"type":"tick","orient":"horizontal","color":"#111","thickness":1.3,"size":15,"clip":true},"encoding":{"x":{"field":"i","type":"quantitative"},"y":{"field":"lo","type":"quantitative"}}}
     ]},
    {"data":{"values":[{"g":"b.2019","n":34},{"g":"2019","n":43},{"g":"2020","n":24},{"g":"2021","n":37}]},
     "transform":[{"calculate":"indexof(['b.2019','2019','2020','2021'], datum.g)","as":"i"}],
     "mark":{"type":"text","fontSize":11,"baseline":"middle","color":"#222"},
     "encoding":{"x":{"field":"i","type":"quantitative"},"y":{"datum":145000},"text":{"field":"n"}}},
    {"data":{"values":[{"a":"b.2019","b":"2021","y":20500,"ya":15800,"yb":3600,"lab":"***"},{"a":"b.2019","b":"2019","y":8600,"ya":6620,"yb":3160,"lab":"****"},{"a":"2019","b":"2020","y":8600,"ya":3160,"yb":4480,"lab":"*"}]},
     "transform":[{"calculate":"indexof(['b.2019','2019','2020','2021'], datum.a)","as":"ia"},{"calculate":"indexof(['b.2019','2019','2020','2021'], datum.b)","as":"ib"},{"calculate":"(datum.ia+datum.ib)/2","as":"im"}],
     "layer":[
      {"mark":{"type":"rule","color":"#333","strokeWidth":1.4},"encoding":{"x":{"field":"ia","type":"quantitative"},"x2":{"field":"ib"},"y":{"field":"y","type":"quantitative"}}},
      {"mark":{"type":"rule","color":"#333","strokeWidth":1.4},"encoding":{"x":{"field":"ia","type":"quantitative"},"y":{"field":"y","type":"quantitative"},"y2":{"field":"ya"}}},
      {"mark":{"type":"rule","color":"#333","strokeWidth":1.4},"encoding":{"x":{"field":"ib","type":"quantitative"},"y":{"field":"y","type":"quantitative"},"y2":{"field":"yb"}}},
      {"mark":{"type":"text","fontSize":13,"fontWeight":"bold","baseline":"alphabetic","dy":1,"color":"#222"},"encoding":{"x":{"field":"im","type":"quantitative"},"y":{"field":"y","type":"quantitative"},"text":{"field":"lab"}}}
     ]}
   ]
  },
  {
   "width":186,"height":106,
   "data":{"name":"NaM"},
   "transform":[
    {"calculate":"indexof(['b.2019','2019','2020','2021'], datum.g)","as":"i"},
    {"calculate":"floor(log(datum.v)/LN10/0.17)","as":"lb"},
    {"joinaggregate":[{"op":"count","as":"c"}],"groupby":["g","lb"]},
    {"window":[{"op":"row_number","as":"r"}],"groupby":["g","lb"],"sort":[{"field":"v","order":"descending"}]},
    {"calculate":"datum.i+((datum.r%2==0?datum.r/2:-(datum.r-1)/2)-(datum.c%2==0?0.5:0))*min(0.21,0.5/max(datum.c-1,1))","as":"xi"}
   ],
   "layer":[
    {"mark":{"type":"point","shape":"circle","filled":true,"fill":"white","stroke":"#1a1a1a","strokeWidth":1.1,"size":64,"opacity":1},
     "encoding":{
      "x":{"field":"xi","type":"quantitative","scale":{"domain":[-0.69,3.6],"nice":false,"zero":false},"axis":{"values":[0,1,2,3],"labelExpr":"['b. 2019','2019','2020','2021'][datum.value]","title":null,"minExtent":85,"maxExtent":85}},
      "y":{"field":"v","type":"quantitative","scale":{"type":"log","domain":[100,10000],"nice":false},"axis":{"values":[100,1000,10000],"format":"d","title":"Na in Muscle (µg/g)","titleX":-64,"titleBaseline":"middle","minExtent":85,"maxExtent":85}}
     }},
    {"transform":[{"aggregate":[{"op":"mean","field":"v","as":"m"},{"op":"stdev","field":"v","as":"s"}],"groupby":["i"]},{"calculate":"datum.m+datum.s","as":"hi"},{"calculate":"datum.m>datum.s?datum.m-datum.s:datum.m","as":"lo"}],
     "layer":[
      {"mark":{"type":"rule","color":"#111","strokeWidth":1.3,"clip":true},"encoding":{"x":{"field":"i","type":"quantitative"},"y":{"field":"lo","type":"quantitative"},"y2":{"field":"hi"}}},
      {"mark":{"type":"tick","orient":"horizontal","color":"#111","thickness":1.3,"size":28,"clip":true},"encoding":{"x":{"field":"i","type":"quantitative"},"y":{"field":"m","type":"quantitative"}}},
      {"mark":{"type":"tick","orient":"horizontal","color":"#111","thickness":1.3,"size":15,"clip":true},"encoding":{"x":{"field":"i","type":"quantitative"},"y":{"field":"hi","type":"quantitative"}}},
      {"transform":[{"filter":"datum.m>datum.s"}],"mark":{"type":"tick","orient":"horizontal","color":"#111","thickness":1.3,"size":15,"clip":true},"encoding":{"x":{"field":"i","type":"quantitative"},"y":{"field":"lo","type":"quantitative"}}}
     ]},
    {"data":{"values":[{"g":"b.2019","n":34},{"g":"2019","n":43},{"g":"2020","n":24},{"g":"2021","n":37}]},
     "transform":[{"calculate":"indexof(['b.2019','2019','2020','2021'], datum.g)","as":"i"}],
     "mark":{"type":"text","fontSize":11,"baseline":"middle","color":"#222"},
     "encoding":{"x":{"field":"i","type":"quantitative"},"y":{"datum":89700},"text":{"field":"n"}}},
    {"data":{"values":[{"a":"b.2019","b":"2019","y":9800,"ya":7220,"yb":3760,"lab":"*"},{"a":"2019","b":"2020","y":9800,"ya":3760,"yb":4480,"lab":"*"}]},
     "transform":[{"calculate":"indexof(['b.2019','2019','2020','2021'], datum.a)","as":"ia"},{"calculate":"indexof(['b.2019','2019','2020','2021'], datum.b)","as":"ib"},{"calculate":"(datum.ia+datum.ib)/2","as":"im"}],
     "layer":[
      {"mark":{"type":"rule","color":"#333","strokeWidth":1.4},"encoding":{"x":{"field":"ia","type":"quantitative"},"x2":{"field":"ib"},"y":{"field":"y","type":"quantitative"}}},
      {"mark":{"type":"rule","color":"#333","strokeWidth":1.4},"encoding":{"x":{"field":"ia","type":"quantitative"},"y":{"field":"y","type":"quantitative"},"y2":{"field":"ya"}}},
      {"mark":{"type":"rule","color":"#333","strokeWidth":1.4},"encoding":{"x":{"field":"ib","type":"quantitative"},"y":{"field":"y","type":"quantitative"},"y2":{"field":"yb"}}},
      {"mark":{"type":"text","fontSize":13,"fontWeight":"bold","baseline":"alphabetic","dy":1,"color":"#222"},"encoding":{"x":{"field":"im","type":"quantitative"},"y":{"field":"y","type":"quantitative"},"text":{"field":"lab"}}}
     ]}
   ]
  }
 ],
 "columns":5,"spacing":0
},
{
 "concat":[
  {"width":551,"height":90,"data":{"values":[]},"mark":{"type":"point","opacity":0}},
  {
   "width":52,"height":37,
   "view":{"stroke":"#333","strokeWidth":1.3,"fill":"white"},
   "data":{"values":[{"k":"Mg"}]},
   "mark":{"type":"text","fontSize":23,"font":"Liberation Sans","color":"#111"},
   "encoding":{
    "text":{"field":"k"},
    "x":{"field":"k","type":"nominal","axis":null},
    "y":{"field":"k","type":"nominal","axis":null}
   }
  }
 ],
 "columns":2,"spacing":0
},
{
 "concat":[
  {"width":1,"height":1,"data":{"values":[]},"mark":{"type":"point","opacity":0}},
  {
   "width":199,"height":108,
   "data":{"name":"MgB"},
   "transform":[
    {"calculate":"indexof(['b.2019','2019','2020','2021'], datum.g)","as":"i"},
    {"calculate":"floor(log(datum.v)/LN10/0.17)","as":"lb"},
    {"joinaggregate":[{"op":"count","as":"c"}],"groupby":["g","lb"]},
    {"window":[{"op":"row_number","as":"r"}],"groupby":["g","lb"],"sort":[{"field":"v","order":"descending"}]},
    {"calculate":"datum.i+((datum.r%2==0?datum.r/2:-(datum.r-1)/2)-(datum.c%2==0?0.5:0))*min(0.21,0.5/max(datum.c-1,1))","as":"xi"}
   ],
   "layer":[
    {"mark":{"type":"point","shape":"circle","filled":true,"fill":"white","stroke":"#1a1a1a","strokeWidth":1.1,"size":64,"opacity":1},
     "encoding":{
      "x":{"field":"xi","type":"quantitative","scale":{"domain":[-0.65,3.65],"nice":false,"zero":false},"axis":{"values":[0,1,2,3],"labelExpr":"['b.2019','2019','2020','2021'][datum.value]","title":null,"minExtent":17,"maxExtent":17}},
      "y":{"field":"v","type":"quantitative","scale":{"type":"log","domain":[10,1000],"nice":false},"axis":{"values":[10,100,1000],"format":"d","title":"Mg in Blubber (µg/g)","titleX":-55,"titleBaseline":"middle","minExtent":67,"maxExtent":67}}
     }},
    {"transform":[{"aggregate":[{"op":"mean","field":"v","as":"m"},{"op":"stdev","field":"v","as":"s"}],"groupby":["i"]},{"calculate":"datum.m+datum.s","as":"hi"},{"calculate":"datum.m>datum.s?datum.m-datum.s:datum.m","as":"lo"}],
     "layer":[
      {"mark":{"type":"rule","color":"#111","strokeWidth":1.3,"clip":true},"encoding":{"x":{"field":"i","type":"quantitative"},"y":{"field":"lo","type":"quantitative"},"y2":{"field":"hi"}}},
      {"mark":{"type":"tick","orient":"horizontal","color":"#111","thickness":1.3,"size":28,"clip":true},"encoding":{"x":{"field":"i","type":"quantitative"},"y":{"field":"m","type":"quantitative"}}},
      {"mark":{"type":"tick","orient":"horizontal","color":"#111","thickness":1.3,"size":15,"clip":true},"encoding":{"x":{"field":"i","type":"quantitative"},"y":{"field":"hi","type":"quantitative"}}},
      {"transform":[{"filter":"datum.m>datum.s"}],"mark":{"type":"tick","orient":"horizontal","color":"#111","thickness":1.3,"size":15,"clip":true},"encoding":{"x":{"field":"i","type":"quantitative"},"y":{"field":"lo","type":"quantitative"}}}
     ]},
    {"data":{"values":[{"g":"b.2019","n":34},{"g":"2019","n":43},{"g":"2020","n":23},{"g":"2021","n":37}]},
     "transform":[{"calculate":"indexof(['b.2019','2019','2020','2021'], datum.g)","as":"i"}],
     "mark":{"type":"text","fontSize":11,"baseline":"middle","color":"#222"},
     "encoding":{"x":{"field":"i","type":"quantitative"},"y":{"datum":14700},"text":{"field":"n"}}}
   ]
  },
  {
   "width":186,"height":108,
   "data":{"name":"MgK"},
   "transform":[
    {"calculate":"indexof(['b.2019','2019','2020','2021'], datum.g)","as":"i"},
    {"calculate":"floor(log(datum.v)/LN10/0.25)","as":"lb"},
    {"joinaggregate":[{"op":"count","as":"c"}],"groupby":["g","lb"]},
    {"window":[{"op":"row_number","as":"r"}],"groupby":["g","lb"],"sort":[{"field":"v","order":"descending"}]},
    {"calculate":"datum.i+((datum.r%2==0?datum.r/2:-(datum.r-1)/2)-(datum.c%2==0?0.5:0))*min(0.21,0.5/max(datum.c-1,1))","as":"xi"}
   ],
   "layer":[
    {"mark":{"type":"point","shape":"circle","filled":true,"fill":"white","stroke":"#1a1a1a","strokeWidth":1.1,"size":64,"opacity":1},
     "encoding":{
      "x":{"field":"xi","type":"quantitative","scale":{"domain":[-0.69,3.57],"nice":false,"zero":false},"axis":{"values":[0,1,2,3],"labelExpr":"['b. 2019','2019','2020','2021'][datum.value]","title":null,"minExtent":17,"maxExtent":17}},
      "y":{"field":"v","type":"quantitative","scale":{"type":"log","domain":[10,10000],"nice":false},"axis":{"values":[10,100,1000,10000],"format":"d","title":"Mg in Kidney (µg/g)","titleX":-60,"titleBaseline":"middle","minExtent":85,"maxExtent":85}}
     }},
    {"transform":[{"aggregate":[{"op":"mean","field":"v","as":"m"},{"op":"stdev","field":"v","as":"s"}],"groupby":["i"]},{"calculate":"datum.m+datum.s","as":"hi"},{"calculate":"datum.m>datum.s?datum.m-datum.s:datum.m","as":"lo"}],
     "layer":[
      {"mark":{"type":"rule","color":"#111","strokeWidth":1.3,"clip":true},"encoding":{"x":{"field":"i","type":"quantitative"},"y":{"field":"lo","type":"quantitative"},"y2":{"field":"hi"}}},
      {"mark":{"type":"tick","orient":"horizontal","color":"#111","thickness":1.3,"size":28,"clip":true},"encoding":{"x":{"field":"i","type":"quantitative"},"y":{"field":"m","type":"quantitative"}}},
      {"mark":{"type":"tick","orient":"horizontal","color":"#111","thickness":1.3,"size":15,"clip":true},"encoding":{"x":{"field":"i","type":"quantitative"},"y":{"field":"hi","type":"quantitative"}}},
      {"transform":[{"filter":"datum.m>datum.s"}],"mark":{"type":"tick","orient":"horizontal","color":"#111","thickness":1.3,"size":15,"clip":true},"encoding":{"x":{"field":"i","type":"quantitative"},"y":{"field":"lo","type":"quantitative"}}}
     ]},
    {"data":{"values":[{"g":"b.2019","n":34},{"g":"2019","n":43},{"g":"2020","n":24},{"g":"2021","n":36}]},
     "transform":[{"calculate":"indexof(['b.2019','2019','2020','2021'], datum.g)","as":"i"}],
     "mark":{"type":"text","fontSize":11,"baseline":"middle","color":"#222"},
     "encoding":{"x":{"field":"i","type":"quantitative"},"y":{"datum":121000},"text":{"field":"n"}}}
   ]
  },
  {
   "width":200,"height":108,
   "data":{"name":"MgL"},
   "transform":[
    {"calculate":"indexof(['b.2019','2019','2020','2021'], datum.g)","as":"i"},
    {"calculate":"floor(log(datum.v)/LN10/0.17)","as":"lb"},
    {"joinaggregate":[{"op":"count","as":"c"}],"groupby":["g","lb"]},
    {"window":[{"op":"row_number","as":"r"}],"groupby":["g","lb"],"sort":[{"field":"v","order":"descending"}]},
    {"calculate":"datum.i+((datum.r%2==0?datum.r/2:-(datum.r-1)/2)-(datum.c%2==0?0.5:0))*min(0.21,0.5/max(datum.c-1,1))","as":"xi"}
   ],
   "layer":[
    {"mark":{"type":"point","shape":"circle","filled":true,"fill":"white","stroke":"#1a1a1a","strokeWidth":1.1,"size":64,"opacity":1},
     "encoding":{
      "x":{"field":"xi","type":"quantitative","scale":{"domain":[-0.76,3.72],"nice":false,"zero":false},"axis":{"values":[0,1,2,3],"labelExpr":"['b. 2019','2019','2020','2021'][datum.value]","title":null,"minExtent":17,"maxExtent":17}},
      "y":{"field":"v","type":"quantitative","scale":{"type":"log","domain":[10,1000],"nice":false},"axis":{"values":[10,100,1000],"format":"d","title":"Mg in Liver (µg/g)","titleX":-50,"titleBaseline":"middle","minExtent":67,"maxExtent":67}}
     }},
    {"transform":[{"aggregate":[{"op":"mean","field":"v","as":"m"},{"op":"stdev","field":"v","as":"s"}],"groupby":["i"]},{"calculate":"datum.m+datum.s","as":"hi"},{"calculate":"datum.m>datum.s?datum.m-datum.s:datum.m","as":"lo"}],
     "layer":[
      {"mark":{"type":"rule","color":"#111","strokeWidth":1.3,"clip":true},"encoding":{"x":{"field":"i","type":"quantitative"},"y":{"field":"lo","type":"quantitative"},"y2":{"field":"hi"}}},
      {"mark":{"type":"tick","orient":"horizontal","color":"#111","thickness":1.3,"size":28,"clip":true},"encoding":{"x":{"field":"i","type":"quantitative"},"y":{"field":"m","type":"quantitative"}}},
      {"mark":{"type":"tick","orient":"horizontal","color":"#111","thickness":1.3,"size":15,"clip":true},"encoding":{"x":{"field":"i","type":"quantitative"},"y":{"field":"hi","type":"quantitative"}}},
      {"transform":[{"filter":"datum.m>datum.s"}],"mark":{"type":"tick","orient":"horizontal","color":"#111","thickness":1.3,"size":15,"clip":true},"encoding":{"x":{"field":"i","type":"quantitative"},"y":{"field":"lo","type":"quantitative"}}}
     ]},
    {"data":{"values":[{"g":"b.2019","n":34},{"g":"2019","n":43},{"g":"2020","n":24},{"g":"2021","n":37}]},
     "transform":[{"calculate":"indexof(['b.2019','2019','2020','2021'], datum.g)","as":"i"}],
     "mark":{"type":"text","fontSize":11,"baseline":"middle","color":"#222"},
     "encoding":{"x":{"field":"i","type":"quantitative"},"y":{"datum":14700},"text":{"field":"n"}}},
    {"data":{"values":[{"a":"b.2019","b":"2020","y":958,"ya":741,"yb":331,"lab":"*"}]},
     "transform":[{"calculate":"indexof(['b.2019','2019','2020','2021'], datum.a)","as":"ia"},{"calculate":"indexof(['b.2019','2019','2020','2021'], datum.b)","as":"ib"},{"calculate":"(datum.ia+datum.ib)/2","as":"im"}],
     "layer":[
      {"mark":{"type":"rule","color":"#333","strokeWidth":1.4},"encoding":{"x":{"field":"ia","type":"quantitative"},"x2":{"field":"ib"},"y":{"field":"y","type":"quantitative"}}},
      {"mark":{"type":"rule","color":"#333","strokeWidth":1.4},"encoding":{"x":{"field":"ia","type":"quantitative"},"y":{"field":"y","type":"quantitative"},"y2":{"field":"ya"}}},
      {"mark":{"type":"rule","color":"#333","strokeWidth":1.4},"encoding":{"x":{"field":"ib","type":"quantitative"},"y":{"field":"y","type":"quantitative"},"y2":{"field":"yb"}}},
      {"mark":{"type":"text","fontSize":13,"fontWeight":"bold","baseline":"alphabetic","dy":1,"color":"#222"},"encoding":{"x":{"field":"im","type":"quantitative"},"y":{"field":"y","type":"quantitative"},"text":{"field":"lab"}}}
     ]}
   ]
  },
  {
   "width":198,"height":108,
   "data":{"name":"MgM"},
   "transform":[
    {"calculate":"indexof(['b.2019','2019','2020','2021'], datum.g)","as":"i"},
    {"calculate":"floor(log(datum.v)/LN10/0.17)","as":"lb"},
    {"joinaggregate":[{"op":"count","as":"c"}],"groupby":["g","lb"]},
    {"window":[{"op":"row_number","as":"r"}],"groupby":["g","lb"],"sort":[{"field":"v","order":"descending"}]},
    {"calculate":"datum.i+((datum.r%2==0?datum.r/2:-(datum.r-1)/2)-(datum.c%2==0?0.5:0))*min(0.21,0.5/max(datum.c-1,1))","as":"xi"}
   ],
   "layer":[
    {"mark":{"type":"point","shape":"circle","filled":true,"fill":"white","stroke":"#1a1a1a","strokeWidth":1.1,"size":64,"opacity":1},
     "encoding":{
      "x":{"field":"xi","type":"quantitative","scale":{"domain":[-0.62,3.78],"nice":false,"zero":false},"axis":{"values":[0,1,2,3],"labelExpr":"['b. 2019','2019','2020','2021'][datum.value]","title":null,"minExtent":17,"maxExtent":17}},
      "y":{"field":"v","type":"quantitative","scale":{"type":"log","domain":[10,1000],"nice":false},"axis":{"values":[10,100,1000],"format":"d","title":"Mg in Muscle (µg/g)","titleX":-56,"titleBaseline":"middle","minExtent":79,"maxExtent":79}}
     }},
    {"transform":[{"aggregate":[{"op":"mean","field":"v","as":"m"},{"op":"stdev","field":"v","as":"s"}],"groupby":["i"]},{"calculate":"datum.m+datum.s","as":"hi"},{"calculate":"datum.m>datum.s?datum.m-datum.s:datum.m","as":"lo"}],
     "layer":[
      {"mark":{"type":"rule","color":"#111","strokeWidth":1.3,"clip":true},"encoding":{"x":{"field":"i","type":"quantitative"},"y":{"field":"lo","type":"quantitative"},"y2":{"field":"hi"}}},
      {"mark":{"type":"tick","orient":"horizontal","color":"#111","thickness":1.3,"size":28,"clip":true},"encoding":{"x":{"field":"i","type":"quantitative"},"y":{"field":"m","type":"quantitative"}}},
      {"mark":{"type":"tick","orient":"horizontal","color":"#111","thickness":1.3,"size":15,"clip":true},"encoding":{"x":{"field":"i","type":"quantitative"},"y":{"field":"hi","type":"quantitative"}}},
      {"transform":[{"filter":"datum.m>datum.s"}],"mark":{"type":"tick","orient":"horizontal","color":"#111","thickness":1.3,"size":15,"clip":true},"encoding":{"x":{"field":"i","type":"quantitative"},"y":{"field":"lo","type":"quantitative"}}}
     ]},
    {"data":{"values":[{"g":"b.2019","n":34},{"g":"2019","n":43},{"g":"2020","n":24},{"g":"2021","n":37}]},
     "transform":[{"calculate":"indexof(['b.2019','2019','2020','2021'], datum.g)","as":"i"}],
     "mark":{"type":"text","fontSize":11,"baseline":"middle","color":"#222"},
     "encoding":{"x":{"field":"i","type":"quantitative"},"y":{"datum":14060},"text":{"field":"n"}}},
    {"data":{"values":[{"a":"b.2019","b":"2020","y":3920,"ya":1140,"yb":331,"lab":"***"},{"a":"2019","b":"2020","y":1470,"ya":331,"yb":331,"lab":"**"}]},
     "transform":[{"calculate":"indexof(['b.2019','2019','2020','2021'], datum.a)","as":"ia"},{"calculate":"indexof(['b.2019','2019','2020','2021'], datum.b)","as":"ib"},{"calculate":"(datum.ia+datum.ib)/2","as":"im"}],
     "layer":[
      {"mark":{"type":"rule","color":"#333","strokeWidth":1.4},"encoding":{"x":{"field":"ia","type":"quantitative"},"x2":{"field":"ib"},"y":{"field":"y","type":"quantitative"}}},
      {"mark":{"type":"rule","color":"#333","strokeWidth":1.4},"encoding":{"x":{"field":"ia","type":"quantitative"},"y":{"field":"y","type":"quantitative"},"y2":{"field":"ya"}}},
      {"mark":{"type":"rule","color":"#333","strokeWidth":1.4},"encoding":{"x":{"field":"ib","type":"quantitative"},"y":{"field":"y","type":"quantitative"},"y2":{"field":"yb"}}},
      {"mark":{"type":"text","fontSize":13,"fontWeight":"bold","baseline":"alphabetic","dy":1,"color":"#222"},"encoding":{"x":{"field":"im","type":"quantitative"},"y":{"field":"y","type":"quantitative"},"text":{"field":"lab"}}}
     ]}
   ]
  }
 ],
 "columns":5,"spacing":0
},
{
 "width":1086,"height":19,
 "view":{"fill":"#f3f3f3","stroke":null},
 "data":{"values":[]},
 "mark":{"type":"point","opacity":0}
}
]
}
